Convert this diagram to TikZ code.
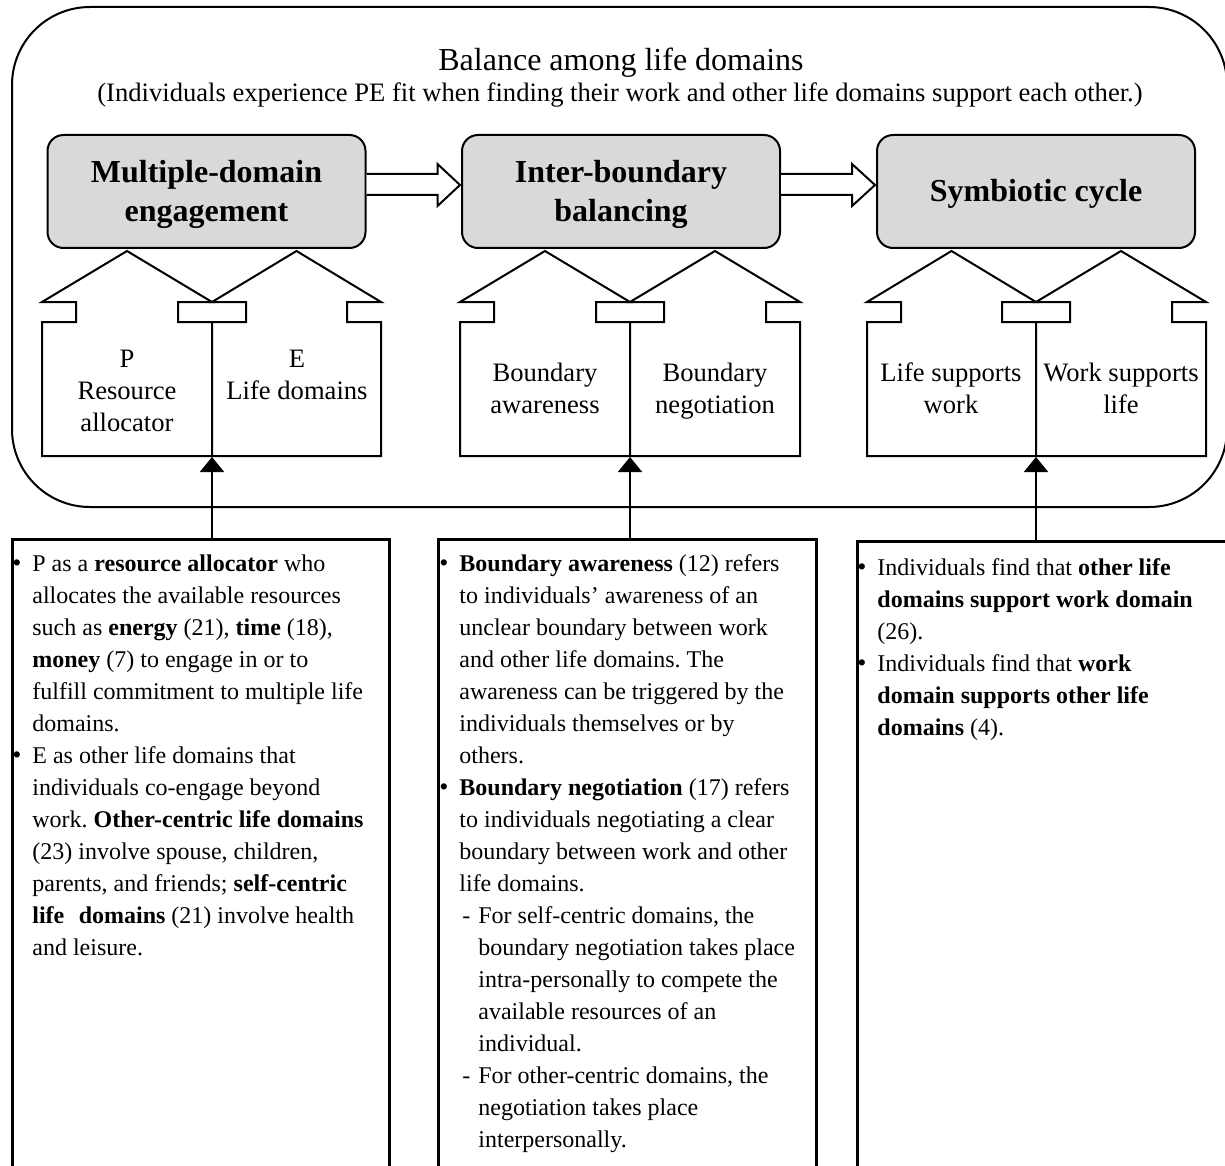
\documentclass[tikz,border=0pt]{standalone}
\usepackage{fontspec}
\setmainfont{Liberation Serif}
\usetikzlibrary{calc,arrows.meta}
\definecolor{boxgray}{RGB}{217,217,217}
\frenchspacing
\newcommand\bul{\llap{{\fontsize{13}{13}\selectfont •}\hspace{5.5pt}}}
\newcommand\dashitem{\makebox[9.5pt][l]{\hspace{1.5pt}-}}
\newcommand\subind{\hspace*{9.5pt}}
\newcommand\drawhouse[2]{\draw[house] (#1,456) -- (#1,322) -- ({#1+34},322) -- ({#1+34},302) -- (#1,302) -- ({#1+#2/2},251) -- ({#1+#2},302) -- ({#1+#2-34},302) -- ({#1+#2-34},322) -- ({#1+#2},322) -- ({#1+#2},456) -- cycle;}
\begin{document}
\begin{tikzpicture}[x=0.5pt,y=-0.5pt,
  gbox/.style={draw,line width=1pt,fill=boxgray,rounded corners=8pt,minimum width=159pt,minimum height=56.5pt,inner sep=0pt},
  htext/.style={font=\fontsize{16}{19.5}\selectfont\bfseries,anchor=base,inner sep=0pt},
  house/.style={draw,line width=1pt,fill=white,line join=miter},
  hlabel/.style={font=\fontsize{13.3}{16}\selectfont,anchor=base,inner sep=0pt},
  bbox/.style={draw,line width=1.3pt,minimum height=350pt,anchor=north west,inner sep=0pt},
  btext/.style={font=\fontsize{12}{16}\selectfont,anchor=base west,inner sep=0pt},
  barrow/.style={draw,line width=1pt,fill=white,line join=miter},
  uparrow/.style={line width=1pt,-{Triangle[length=7.5pt,width=12pt]}},
]
\useasboundingbox (0,0) rectangle (1225,1166);
\fill[white] (0,0) rectangle (1225,1166);
\clip (0,0) rectangle (1225,1166);

% outer frame
\draw[line width=1pt,rounded corners=39pt] (12,7) rectangle (1227,507);

% title
\node[font=\fontsize{16}{19}\selectfont,anchor=base,inner sep=0pt] (title) at (621,71) {Balance among life domains};
\node[font=\fontsize{13.3}{16}\selectfont,anchor=base,inner sep=0pt] (subtitle) at (620,102) {(Individuals experience PE fit when finding their work and other life domains support each other.)};

% grey boxes
\node[gbox] (g1) at (206.5,191.5) {};
\node[gbox] (g2) at (621,191.5) {};
\node[gbox] (g3) at (1036,191.5) {};
\node[htext] (t1) at (206.5,183) {\begin{tabular}[t]{@{}c@{}}Multiple-domain\\engagement\end{tabular}};
\node[htext] (t2) at (621,183) {\begin{tabular}[t]{@{}c@{}}Inter-boundary\\balancing\end{tabular}};
\node[htext] (t3) at (1036,202) {Symbiotic cycle};

% block arrows
\draw[barrow] ($(g1.east)+(0,-17.5)$) -- ++(71,0) -- ++(0,-10) -- ($(g2.west)+(-1,-6.5)$) -- ($(g1.east)+(71,14.5)$) -- ++(0,-11) -- ($(g1.east)+(0,3.5)$);
\draw[barrow] ($(g2.east)+(0,-17.5)$) -- ++(71,0) -- ++(0,-10) -- ($(g3.west)+(-1,-6.5)$) -- ($(g2.east)+(71,14.5)$) -- ++(0,-11) -- ($(g2.east)+(0,3.5)$);

% houses
\drawhouse{42}{170}
\drawhouse{212}{169}
\drawhouse{460}{170}
\drawhouse{630}{170}
\drawhouse{867}{169}
\drawhouse{1036}{170}

\node[hlabel] (l1) at (127,367) {\begin{tabular}[t]{@{}c@{}}P\\Resource\\allocator\end{tabular}};
\node[hlabel] (l2) at (297,367) {\begin{tabular}[t]{@{}c@{}}E\\Life domains\end{tabular}};
\node[hlabel] (l3) at (545,381) {\begin{tabular}[t]{@{}c@{}}Boundary\\awareness\end{tabular}};
\node[hlabel] (l4) at (715,381) {\begin{tabular}[t]{@{}c@{}}Boundary\\negotiation\end{tabular}};
\node[hlabel] (l5) at (951,381) {\begin{tabular}[t]{@{}c@{}}Life supports\\work\end{tabular}};
\node[hlabel] (l6) at (1121,381) {\begin{tabular}[t]{@{}c@{}}Work supports\\life\end{tabular}};

\coordinate (h1) at (212,457);
\coordinate (h2) at (630,457);
\coordinate (h3) at (1036,457);

% bullet boxes
\node[bbox,minimum width=188.5pt] (b1) at (11,538) {};
\node[bbox,minimum width=189pt] (b2) at (437,538) {};
\node[bbox,minimum width=200pt] (b3) at (856,540) {};

\draw[uparrow] (b1.north -| h1) -- (h1);
\draw[uparrow] (b2.north -| h2) -- (h2);
\draw[uparrow] (b3.north -| h3) -- (h3);

\node[btext] (x1) at (32,571) {\begin{tabular}[t]{@{}l@{}}
\bul P as a \textbf{resource allocator} who\\
allocates the available resources\\
such as \textbf{energy} (21), \textbf{time} (18),\\
\textbf{money} (7) to engage in or to\\
fulfill commitment to multiple life\\
domains.\\
\bul E as other life domains that\\
individuals co-engage beyond\\
work. \textbf{Other-centric life domains}\\
(23) involve spouse, children,\\
parents, and friends; \textbf{self-centric}\\
\textbf{life\hspace{0.6em}domains} (21) involve health\\
and leisure.
\end{tabular}};

\node[btext] (x2) at (459,571) {\begin{tabular}[t]{@{}l@{}}
\bul\textbf{Boundary awareness} (12) refers\\
to individuals' awareness of an\\
unclear boundary between work\\
and other life domains. The\\
awareness can be triggered by the\\
individuals themselves or by\\
others.\\
\bul\textbf{Boundary negotiation} (17) refers\\
to individuals negotiating a clear\\
boundary between work and other\\
life domains.\\
\dashitem For self-centric domains, the\\
\subind boundary negotiation takes place\\
\subind intra-personally to compete the\\
\subind available resources of an\\
\subind individual.\\
\dashitem For other-centric domains, the\\
\subind negotiation takes place\\
\subind interpersonally.
\end{tabular}};

\node[btext] (x3) at (877,575) {\begin{tabular}[t]{@{}l@{}}
\bul Individuals find that \textbf{other life}\\
\textbf{domains support work domain}\\
(26).\\
\bul Individuals find that \textbf{work}\\
\textbf{domain supports other life}\\
\textbf{domains} (4).
\end{tabular}};
\end{tikzpicture}
\end{document}
